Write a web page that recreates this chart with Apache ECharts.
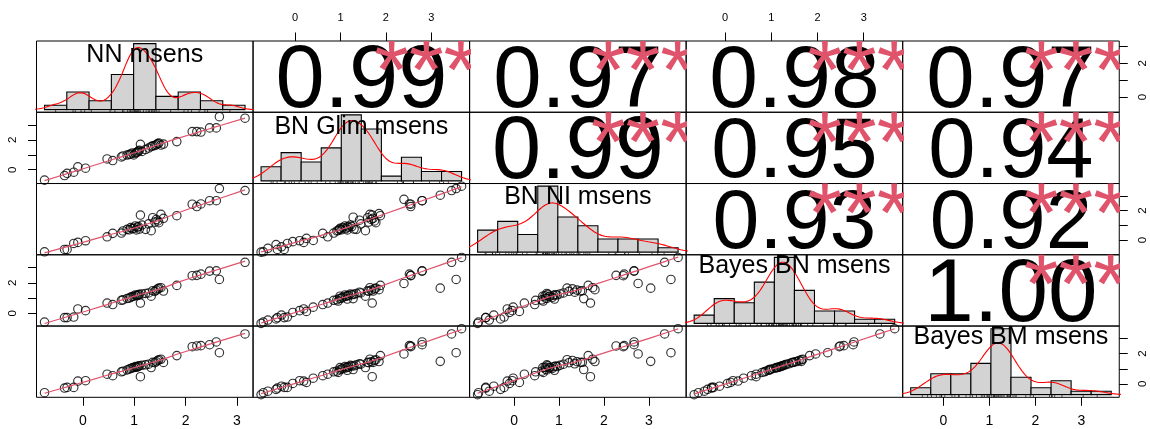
<!DOCTYPE html>
<html><head><meta charset="utf-8">
<script src="https://cdn.jsdelivr.net/npm/echarts@6/dist/echarts.min.js"></script>
<style>html,body{margin:0;padding:0;background:#fff}#c{width:1150px;height:429px}</style>
</head><body><div id="c"></div>
<script>
// ---------------- data ----------------
const varNames = ["NN msens", "BN Glim msens", "BN NI msens", "Bayes BN msens", "Bayes BM msens"];

const nn = [-0.75,-0.36,-0.31,-0.18,-0.10,0.05,0.47,0.58,
  0.75,0.78,0.86,0.90,0.93,0.96,0.99,1.02,1.04,1.06,1.08,1.10,1.12,1.15,1.22,1.28,1.33,1.36,1.40,1.43,1.46,1.48,1.52,1.57,1.83,
  2.13,2.22,2.30,2.47,2.60,2.66,3.16,
  null,null,null,null,null,null,null,null,null,null,null,null,null,null,null];
const glim = [-0.70,-0.39,-0.24,-0.17,0.19,0.10,0.72,0.61,
  0.85,0.92,0.98,1.02,1.05,1.12,0.99,1.10,1.15,1.18,1.25,1.30,1.70,1.22,1.35,1.45,1.55,1.60,1.62,1.68,1.75,1.78,1.65,1.72,1.88,
  2.55,2.55,2.52,2.80,2.80,3.55,3.45,
  3.67,2.40,3.20,0.95,1.15,1.28,1.42,1.85,-0.75,-0.60,-0.42,-0.30,-0.05,0.25,0.40];
const ni = [-0.79,-0.63,-0.63,-0.22,-0.15,-0.04,0.23,0.46,
  0.48,0.62,0.73,0.70,0.85,0.78,0.80,0.96,0.69,0.88,0.92,0.75,1.70,1.02,0.73,1.10,0.64,1.52,1.22,1.40,1.30,1.18,1.75,1.48,1.65,
  2.43,2.27,2.45,2.67,2.67,3.49,3.35,
  3.65,2.76,3.04,0.65,0.90,1.55,1.35,1.80,-0.81,-0.55,-0.30,-0.45,-0.10,0.12,-0.02];
const bayesBN = [-0.58,-0.29,-0.29,-0.25,0.28,0.17,0.67,0.57,
  0.85,0.88,0.97,0.99,1.05,1.10,1.12,1.20,1.15,1.18,1.22,1.24,0.67,1.27,1.30,1.33,1.12,1.48,1.44,1.52,1.60,1.65,1.68,1.46,1.83,
  2.47,2.49,2.57,2.77,2.79,2.22,3.35,
  3.67,1.96,1.65,0.80,0.93,0.96,1.38,1.55,-0.67,-0.45,-0.38,-0.12,0.05,0.12,0.40];
const bayesBM = [-0.58,-0.27,-0.23,-0.23,0.19,0.21,0.64,0.54,
  0.80,0.84,0.92,0.97,1.02,1.06,1.08,1.15,1.10,1.13,1.18,1.20,0.48,1.23,1.26,1.30,1.08,1.43,1.40,1.47,1.55,1.60,1.63,1.42,1.87,
  2.46,2.51,2.53,2.59,2.77,2.06,3.30,
  3.65,1.98,1.49,0.76,0.90,0.95,1.33,1.48,-0.71,-0.48,-0.36,-0.15,0.03,0.10,0.38];

// correlation labels for upper panels, row by row: (1,2),(1,3),(1,4),(1,5),(2,3),(2,4),(2,5),(3,4),(3,5),(4,5)
const corrLabels = ["0.99","0.97","0.98","0.97","0.99","0.95","0.94","0.93","0.92","1.00"];
const signifLabels = ["***","***","***","***","***","***","***","***","***","***"];

// histogram breaks (FD) for each variable
const breaksNN = [-1,-0.5,0,0.5,1,1.5,2,2.5,3,3.5];
const breaksOther = [-1,-0.5,0,0.5,1,1.5,2,2.5,3,3.5,4];
const histBreaks = [breaksNN, breaksOther, breaksOther, breaksOther, breaksOther];

const tickValues = [0, 1, 2, 3];
const xTickLabels = [0, 1, 2, 3];
const yTickLabels = [0, 2];

// ---------------- helpers ----------------
const FONT = '"Liberation Sans", Arial, Helvetica, sans-serif';
const L0 = 36.5, T0 = 41, PW = 216.55, PH = 71.26;
const vars = [nn, glim, ni, bayesBN, bayesBM];
const NV = vars.length;

const mctx = document.createElement('canvas').getContext('2d');
function measure(text, size) {
  mctx.font = size + 'px ' + FONT;
  mctx.textBaseline = 'middle';
  const m = mctx.measureText(text);
  return { w: m.width, off: (m.actualBoundingBoxDescent - m.actualBoundingBoxAscent) / 2 };
}

function ext(a) {
  const v = a.filter(x => x != null);
  const mn = Math.min(...v), mx = Math.max(...v), d = (mx - mn) * 0.04;
  return [mn - d, mx + d];
}
const ranges = vars.map(ext);

function histCounts(v, br) {
  const c = new Array(br.length - 1).fill(0);
  for (const a of v) {
    if (a == null) continue;
    for (let b = 0; b < br.length - 1; b++) {
      if ((a > br[b] || (b === 0 && a >= br[0])) && a <= br[b + 1] + 1e-12) { c[b]++; break; }
    }
  }
  return c;
}

function kde(v) {
  const x = v.filter(a => a != null).sort((a, b) => a - b);
  const n = x.length;
  const mean = x.reduce((s, a) => s + a, 0) / n;
  const sd = Math.sqrt(x.reduce((s, a) => s + (a - mean) * (a - mean), 0) / (n - 1));
  const q = p => { const h = (n - 1) * p, lo = Math.floor(h); return x[lo] + (h - lo) * (x[Math.min(lo + 1, n - 1)] - x[lo]); };
  let lo = Math.min(sd, (q(0.75) - q(0.25)) / 1.34);
  if (!(lo > 0)) lo = sd || 1;
  const bw = 0.9 * lo * Math.pow(n, -0.2);
  const from = x[0] - 3 * bw, to = x[n - 1] + 3 * bw, M = 300, out = [];
  for (let k = 0; k < M; k++) {
    const t = from + (to - from) * k / (M - 1);
    let s = 0;
    for (const a of x) { const z = (t - a) / bw; s += Math.exp(-0.5 * z * z); }
    out.push([t, s / (n * bw * Math.sqrt(2 * Math.PI))]);
  }
  return out;
}

function lowess(xs, ys, f = 2 / 3, iter = 3) {
  const n = xs.length;
  const idx = [...Array(n).keys()].sort((a, b) => xs[a] - xs[b]);
  const x = idx.map(i => xs[i]), y = idx.map(i => ys[i]);
  const ns = Math.max(2, Math.min(n, Math.floor(f * n + 1e-7)));
  const range = x[n - 1] - x[0];
  let rw = new Array(n).fill(1);
  const ysm = new Array(n).fill(0);
  for (let it = 0; it <= iter; it++) {
    let nleft = 0, nright = ns - 1;
    for (let i = 0; i < n; i++) {
      while (nright < n - 1) {
        const d1 = x[i] - x[nleft], d2 = x[nright + 1] - x[i];
        if (d1 <= d2) break;
        nleft++; nright++;
      }
      const h = Math.max(x[i] - x[nleft], x[nright] - x[i]);
      const h9 = 0.999 * h, h1 = 0.001 * h;
      const w = new Array(n).fill(0);
      let a = 0, j;
      for (j = nleft; j < n; j++) {
        const r = Math.abs(x[j] - x[i]);
        if (r <= h9) {
          w[j] = r <= h1 ? 1 : Math.pow(1 - Math.pow(r / h, 3), 3);
          if (it > 0) w[j] *= rw[j];
          a += w[j];
        } else if (x[j] > x[i]) break;
      }
      const nrt = j - 1;
      if (a <= 0) { ysm[i] = y[i]; continue; }
      for (let k = nleft; k <= nrt; k++) w[k] /= a;
      if (h > 0) {
        let xm = 0;
        for (let k = nleft; k <= nrt; k++) xm += w[k] * x[k];
        let c = 0;
        for (let k = nleft; k <= nrt; k++) c += w[k] * (x[k] - xm) * (x[k] - xm);
        if (Math.sqrt(c) > 0.001 * range) {
          const b = (x[i] - xm) / c;
          for (let k = nleft; k <= nrt; k++) w[k] *= (b * (x[k] - xm) + 1);
        }
      }
      let s = 0;
      for (let k = nleft; k <= nrt; k++) s += w[k] * y[k];
      ysm[i] = s;
    }
    if (it === iter) break;
    const res = y.map((v, k) => Math.abs(v - ysm[k]));
    const sorted = [...res].sort((p, q) => p - q);
    const m = n % 2 ? sorted[(n - 1) / 2] : (sorted[n / 2 - 1] + sorted[n / 2]) / 2;
    const cmad = 6 * m;
    if (cmad < 1e-7) break;
    rw = res.map(r => r <= 0.001 * cmad ? 1 : (r > 0.999 * cmad ? 0 : Math.pow(1 - (r / cmad) * (r / cmad), 2)));
  }
  return x.map((v, k) => [v, ysm[k]]);
}

// text sizes following R's pairs / panel.cor rules
const labelSize = 0.9 * PW / Math.max(...varNames.map(t => measure(t, 1).w));
const corrBase = 0.8 * PW / measure(corrLabels[0], 1).w;
const TICK_FONT = { top: 11, bottom: 14, left: 11.5, right: 11.5 };

// ---------------- build option ----------------
const grids = [], xAxes = [], yAxes = [], series = [];

function visAxis(dim, g, rng, pos, show) {
  if (!show) return { gridIndex: g, type: 'value', min: rng[0], max: rng[1], show: false };
  const fsz = TICK_FONT[pos];
  return {
    gridIndex: g, type: 'value', min: rng[0], max: rng[1], position: pos,
    axisLine: { show: false, onZero: false },
    splitLine: { show: false },
    axisTick: { show: true, inside: false, length: 8.5, customValues: tickValues, lineStyle: { color: '#000', width: 1 } },
    axisLabel: {
      show: true, customValues: dim === 'x' ? xTickLabels : yTickLabels, margin: 23.5 - fsz / 2,
      color: '#000', fontSize: fsz, fontFamily: FONT, rotate: dim === 'y' ? 90 : 0, hideOverlap: false
    }
  };
}
function hidAxis(g, rng) { return { gridIndex: g, type: 'value', min: rng[0], max: rng[1], show: false }; }

let upperK = 0;
for (let i = 0; i < NV; i++) {
  for (let j = 0; j < NV; j++) {
    const g = grids.length;
    grids.push({ left: L0 + j * PW, top: T0 + i * PH, width: PW, height: PH, show: true,
      borderColor: '#000', borderWidth: 1, backgroundColor: 'rgba(0,0,0,0)', containLabel: false, outerBoundsMode: 'none' });
    const showTop = (i === 0 && j % 2 === 1), showBottom = (i === NV - 1 && j % 2 === 0);
    const showLeft = (j === 0 && i % 2 === 1), showRight = (j === NV - 1 && i % 2 === 0);
    const xi = xAxes.length; xAxes.push(visAxis('x', g, ranges[j], showTop ? 'top' : 'bottom', showTop || showBottom));
    const yi = yAxes.length; yAxes.push(visAxis('y', g, ranges[i], showRight ? 'right' : 'left', showLeft || showRight));

    if (i > j) {
      // lower panel: scatter + lowess
      const xs = [], ys = [];
      for (let k = 0; k < vars[j].length; k++) {
        if (vars[j][k] != null && vars[i][k] != null) { xs.push(vars[j][k]); ys.push(vars[i][k]); }
      }
      series.push({ type: 'scatter', xAxisIndex: xi, yAxisIndex: yi, data: xs.map((v, k) => [v, ys[k]]),
        symbol: 'circle', symbolSize: 8.4, silent: true, emphasis: { disabled: true },
        itemStyle: { color: 'rgba(0,0,0,0)', borderColor: '#000', borderWidth: 1.15 }, z: 2 });
      series.push({ type: 'line', xAxisIndex: xi, yAxisIndex: yi, data: lowess(xs, ys), showSymbol: false, symbol: 'none',
        silent: true, lineStyle: { color: '#DF536B', width: 1.2 }, z: 3 });
    } else if (i === j) {
      // diagonal: histogram (own coordinates), density, rug, label
      const br = histBreaks[i];
      const vals = vars[i].filter(v => v != null);
      const n = vals.length;
      const counts = histCounts(vals, br);
      const dens = counts.map((c, b) => c / (n * (br[b + 1] - br[b])));
      const maxD = Math.max(...dens);
      const span = br[br.length - 1] - br[0];
      const hx = [br[0] - 0.04 * span, br[br.length - 1] + 0.04 * span];
      const hy = [-0.04 * maxD, 1.04 * maxD];
      const hxi = xAxes.length; xAxes.push(hidAxis(g, hx));
      const hyi = yAxes.length; yAxes.push(hidAxis(g, hy));
      series.push({ type: 'custom', xAxisIndex: hxi, yAxisIndex: hyi, clip: true, silent: true, z: 2,
        data: dens.map((d, b) => [br[b], br[b + 1], d]),
        renderItem: (p, api) => {
          const p0 = api.coord([api.value(0), api.value(2)]);
          const p1 = api.coord([api.value(1), 0]);
          return { type: 'rect', shape: { x: p0[0], y: p0[1], width: p1[0] - p0[0], height: p1[1] - p0[1] },
            style: { fill: '#D3D3D3', stroke: '#000', lineWidth: 1.1 } };
        } });
      series.push({ type: 'line', xAxisIndex: hxi, yAxisIndex: hyi, data: kde(vals), showSymbol: false, symbol: 'none',
        silent: true, lineStyle: { color: '#FF0000', width: 1.1 }, z: 3 });
      const rugTop = hy[0] + 0.03 * (hy[1] - hy[0]);
      series.push({ type: 'custom', xAxisIndex: hxi, yAxisIndex: hyi, clip: true, silent: true, z: 3,
        data: vals.map(v => [v]),
        renderItem: (p, api) => {
          const a = api.coord([api.value(0), hy[0]]);
          const b = api.coord([api.value(0), rugTop]);
          return { type: 'line', shape: { x1: a[0], y1: a[1], x2: b[0], y2: b[1] }, style: { stroke: '#000', lineWidth: 0.7 } };
        } });
      const label = varNames[i];
      const lm = measure(label, labelSize);
      series.push({ type: 'custom', xAxisIndex: hxi, yAxisIndex: hyi, clip: false, silent: true, z: 6,
        data: [[hx[0] + 0.5 * (hx[1] - hx[0]), hy[0] + (0.5 + 1 / 3) * (hy[1] - hy[0])]],
        renderItem: (p, api) => {
          const c = api.coord([api.value(0), api.value(1)]);
          return { type: 'text', x: c[0], y: c[1] - lm.off,
            style: { text: label, fontSize: labelSize, fontFamily: FONT, fill: '#000', align: 'center', verticalAlign: 'middle' } };
        } });
    } else {
      // upper panel: correlation text + significance stars
      const txt = corrLabels[upperK], sig = signifLabels[upperK];
      upperK++;
      const r = Math.abs(parseFloat(txt));
      const fs = corrBase * (r + 0.3) / 1.3;
      const tm = measure(txt, fs), sm = measure(sig, corrBase);
      const uxi = xAxes.length; xAxes.push(hidAxis(g, [0, 1]));
      const uyi = yAxes.length; yAxes.push(hidAxis(g, [0, 1]));
      series.push({ type: 'custom', xAxisIndex: uxi, yAxisIndex: uyi, clip: true, silent: true, z: 4,
        data: [[0.5, 0.5, 0.8, 0.8]],
        renderItem: (p, api) => {
          const c1 = api.coord([api.value(0), api.value(1)]);
          const c2 = api.coord([api.value(2), api.value(3)]);
          return { type: 'group', children: [
            { type: 'text', x: c1[0], y: c1[1] - tm.off,
              style: { text: txt, fontSize: fs, fontFamily: FONT, fill: '#000', align: 'center', verticalAlign: 'middle' } },
            { type: 'text', x: c2[0], y: c2[1] - sm.off,
              style: { text: sig, fontSize: corrBase, fontFamily: FONT, fill: '#DF536B', align: 'center', verticalAlign: 'middle' } }
          ] };
        } });
    }
  }
}

const chart = echarts.init(document.getElementById('c'), null, { renderer: 'canvas' });
chart.setOption({ animation: false, backgroundColor: '#fff', grid: grids, xAxis: xAxes, yAxis: yAxes, series: series });
</script>
</body></html>
